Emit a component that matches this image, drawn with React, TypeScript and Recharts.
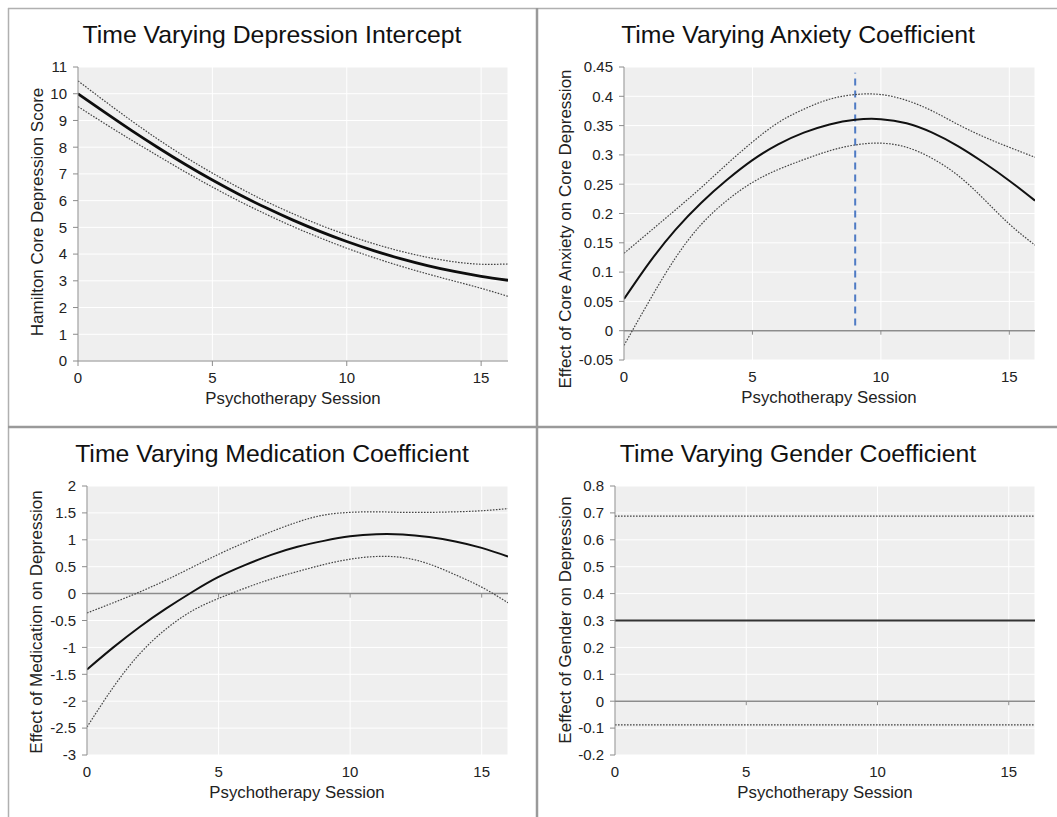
import { CartesianGrid, Line, LineChart, ReferenceLine, XAxis, YAxis } from 'recharts'

const sessions = [0, 1, 2, 3, 4, 5, 6, 7, 8, 9, 10, 11, 12, 13, 14, 15, 16]
const xTicks = [0, 5, 10, 15]

// Time varying depression intercept
const interceptMean = [10.0, 9.3, 8.62, 7.97, 7.35, 6.77, 6.23, 5.73, 5.27, 4.85, 4.47, 4.13, 3.83, 3.57, 3.35, 3.17, 3.02]
const interceptUpper = [10.48, 9.72, 8.98, 8.28, 7.63, 7.03, 6.48, 5.97, 5.51, 5.09, 4.72, 4.39, 4.11, 3.88, 3.71, 3.62, 3.63]
const interceptLower = [9.52, 8.88, 8.26, 7.66, 7.07, 6.51, 5.98, 5.49, 5.03, 4.61, 4.22, 3.87, 3.55, 3.26, 2.99, 2.72, 2.42]
const interceptTicks = [0, 1, 2, 3, 4, 5, 6, 7, 8, 9, 10, 11]

// Time varying anxiety coefficient
const anxietyMean = [0.054, 0.117, 0.172, 0.218, 0.257, 0.291, 0.318, 0.338, 0.352, 0.36, 0.361, 0.354, 0.338, 0.315, 0.287, 0.256, 0.222]
const anxietyUpper = [0.132, 0.169, 0.206, 0.244, 0.284, 0.322, 0.355, 0.378, 0.395, 0.403, 0.403, 0.393, 0.375, 0.352, 0.331, 0.313, 0.296]
const anxietyLower = [-0.025, 0.052, 0.124, 0.181, 0.222, 0.253, 0.275, 0.292, 0.307, 0.317, 0.32, 0.313, 0.294, 0.265, 0.225, 0.182, 0.146]
const anxietyTicks = [-0.05, 0, 0.05, 0.1, 0.15, 0.2, 0.25, 0.3, 0.35, 0.4, 0.45]
const anxietyMarkerSession = 9
const anxietyMarkerFrom = 0.009
const anxietyMarkerTo = 0.44

// Time varying medication coefficient
const medicationMean = [-1.41, -1.0, -0.62, -0.28, 0.03, 0.31, 0.53, 0.72, 0.87, 0.98, 1.065, 1.105, 1.1, 1.05, 0.97, 0.85, 0.69]
const medicationUpper = [-0.36, -0.17, 0.03, 0.25, 0.49, 0.73, 0.95, 1.15, 1.33, 1.46, 1.51, 1.52, 1.51, 1.51, 1.52, 1.54, 1.58]
const medicationLower = [-2.48, -1.74, -1.12, -0.66, -0.32, -0.09, 0.1, 0.27, 0.41, 0.54, 0.64, 0.69, 0.67, 0.55, 0.35, 0.12, -0.17]
const medicationTicks = [-3, -2.5, -2, -1.5, -1, -0.5, 0, 0.5, 1, 1.5, 2]

// Time varying gender coefficient
const genderMean = [0.3, 0.3, 0.3, 0.3, 0.3, 0.3, 0.3, 0.3, 0.3, 0.3, 0.3, 0.3, 0.3, 0.3, 0.3, 0.3, 0.3]
const genderUpper = [0.688, 0.688, 0.688, 0.688, 0.688, 0.688, 0.688, 0.688, 0.688, 0.688, 0.688, 0.688, 0.688, 0.688, 0.688, 0.688, 0.688]
const genderLower = [-0.088, -0.088, -0.088, -0.088, -0.088, -0.088, -0.088, -0.088, -0.088, -0.088, -0.088, -0.088, -0.088, -0.088, -0.088, -0.088, -0.088]
const genderTicks = [-0.2, -0.1, 0, 0.1, 0.2, 0.3, 0.4, 0.5, 0.6, 0.7, 0.8]

const font = "'Liberation Sans', Arial, Helvetica, sans-serif"
const axisGray = '#8c8c8c'

function rows(mean: number[], upper: number[], lower: number[]) {
  return sessions.map((s, i) => ({ session: s, mean: mean[i], upper: upper[i], lower: lower[i] }))
}

type PanelProps = {
  left: number
  top: number
  width: number
  height: number
  marginTop: number
  marginRight: number
  yWidth: number
  xHeight: number
  ticks: number[]
  data: { session: number; mean: number; upper: number; lower: number }[]
  zeroLine?: boolean
  meanColor: string
  meanWidth: number
  marker?: boolean
}

function Panel(p: PanelProps) {
  const domain = [p.ticks[0], p.ticks[p.ticks.length - 1]]
  const plotH = p.height - p.marginTop - p.xHeight
  const tickLen = (4 / plotH) * (domain[1] - domain[0])
  return (
    <div style={{ position: 'absolute', left: p.left, top: p.top }}>
      <LineChart
        width={p.width}
        height={p.height}
        data={p.data}
        margin={{ top: p.marginTop, right: p.marginRight, bottom: 0, left: 0 }}
      >
        <CartesianGrid fill='#efefef' stroke='#ffffff' strokeWidth={1} />
        <XAxis
          type='number'
          dataKey='session'
          domain={[0, 16]}
          ticks={xTicks}
          allowDataOverflow
          height={p.xHeight}
          tickSize={5}
          tickMargin={6}
          axisLine={p.zeroLine ? false : { stroke: axisGray }}
          tickLine={p.zeroLine ? false : { stroke: axisGray }}
          tick={{ fill: '#222', fontSize: 15, fontFamily: font }}
        />
        <YAxis
          type='number'
          domain={domain}
          ticks={p.ticks}
          allowDataOverflow
          width={p.yWidth}
          tickSize={5}
          tickMargin={6}
          axisLine={{ stroke: axisGray }}
          tickLine={{ stroke: axisGray }}
          tick={{ fill: '#222', fontSize: 15, fontFamily: font }}
        />
        {p.zeroLine && <ReferenceLine y={0} stroke={axisGray} strokeWidth={1.5} />}
        {p.zeroLine &&
          xTicks.slice(1).map((t) => (
            <ReferenceLine
              key={t}
              segment={[
                { x: t, y: 0 },
                { x: t, y: -tickLen },
              ]}
              stroke={axisGray}
            />
          ))}
        {p.marker && (
          <ReferenceLine
            segment={[
              { x: anxietyMarkerSession, y: anxietyMarkerFrom },
              { x: anxietyMarkerSession, y: anxietyMarkerTo },
            ]}
            stroke='#4f7bc4'
            strokeWidth={2}
            strokeDasharray='7 5'
          />
        )}
        <Line
          type='natural'
          dataKey='upper'
          stroke='#444'
          strokeWidth={1.2}
          strokeDasharray='1.6 1.4'
          dot={false}
          isAnimationActive={false}
        />
        <Line
          type='natural'
          dataKey='lower'
          stroke='#444'
          strokeWidth={1.2}
          strokeDasharray='1.6 1.4'
          dot={false}
          isAnimationActive={false}
        />
        <Line
          type='natural'
          dataKey='mean'
          stroke={p.meanColor}
          strokeWidth={p.meanWidth}
          dot={false}
          isAnimationActive={false}
        />
      </LineChart>
    </div>
  )
}

const titles = [
  { text: 'Time Varying Depression Intercept', x: 272, y: 43 },
  { text: 'Time Varying Anxiety Coefficient', x: 798, y: 43 },
  { text: 'Time Varying Medication Coefficient', x: 272, y: 462 },
  { text: 'Time Varying Gender Coefficient', x: 798, y: 462 },
]

const xLabels = [
  { x: 293, y: 404 },
  { x: 829, y: 403 },
  { x: 297, y: 798 },
  { x: 825, y: 798 },
]

const yLabels = [
  { text: 'Hamilton Core Depression Score', x: 37.5, y: 212 },
  { text: 'Effect of Core Anxiety on Core Depression', x: 565, y: 229 },
  { text: 'Effect of Medication on Depression', x: 36.5, y: 622 },
  { text: 'Eeffect of Gender on Depression', x: 565, y: 620 },
]

export default function App() {
  return (
    <div style={{ position: 'absolute', left: 0, top: 0, width: 1057, height: 817, background: '#fff', overflow: 'hidden' }}>
      <Panel
        left={8}
        top={8}
        width={529}
        height={419}
        marginTop={59}
        marginRight={29}
        yWidth={70}
        xHeight={66}
        ticks={interceptTicks}
        data={rows(interceptMean, interceptUpper, interceptLower)}
        meanColor='#0d0d0d'
        meanWidth={2.8}
      />
      <Panel
        left={538}
        top={8}
        width={519}
        height={419}
        marginTop={59}
        marginRight={22}
        yWidth={86}
        xHeight={67}
        ticks={anxietyTicks}
        data={rows(anxietyMean, anxietyUpper, anxietyLower)}
        zeroLine
        marker
        meanColor='#111'
        meanWidth={2}
      />
      <Panel
        left={8}
        top={428}
        width={529}
        height={389}
        marginTop={58}
        marginRight={29}
        yWidth={79}
        xHeight={62}
        ticks={medicationTicks}
        data={rows(medicationMean, medicationUpper, medicationLower)}
        zeroLine
        meanColor='#111'
        meanWidth={2}
      />
      <Panel
        left={538}
        top={428}
        width={519}
        height={389}
        marginTop={58}
        marginRight={22}
        yWidth={77}
        xHeight={62}
        ticks={genderTicks}
        data={rows(genderMean, genderUpper, genderLower)}
        zeroLine
        meanColor='#333'
        meanWidth={2}
      />
      <svg width={1057} height={817} style={{ position: 'absolute', left: 0, top: 0, pointerEvents: 'none' }}>
        <line x1={8} y1={8.5} x2={1057} y2={8.5} stroke='#b0b0b0' strokeWidth={1.5} />
        <line x1={8.5} y1={8} x2={8.5} y2={817} stroke='#b0b0b0' strokeWidth={1.5} />
        <line x1={537} y1={8} x2={537} y2={817} stroke='#9a9a9a' strokeWidth={2.5} />
        <line x1={8} y1={427} x2={1057} y2={427} stroke='#9a9a9a' strokeWidth={2.5} />
        {titles.map((t) => (
          <text key={t.text} x={t.x} y={t.y} textAnchor='middle' fontFamily={font} fontSize={24.8} fill='#111'>
            {t.text}
          </text>
        ))}
        {xLabels.map((l, i) => (
          <text key={i} x={l.x} y={l.y} textAnchor='middle' fontFamily={font} fontSize={16.8} fill='#222'>
            Psychotherapy Session
          </text>
        ))}
        {yLabels.map((l) => (
          <text
            key={l.text}
            transform={`translate(${l.x},${l.y}) rotate(-90)`}
            textAnchor='middle'
            dominantBaseline='central'
            fontFamily={font}
            fontSize={17}
            fill='#222'
          >
            {l.text}
          </text>
        ))}
      </svg>
    </div>
  )
}
